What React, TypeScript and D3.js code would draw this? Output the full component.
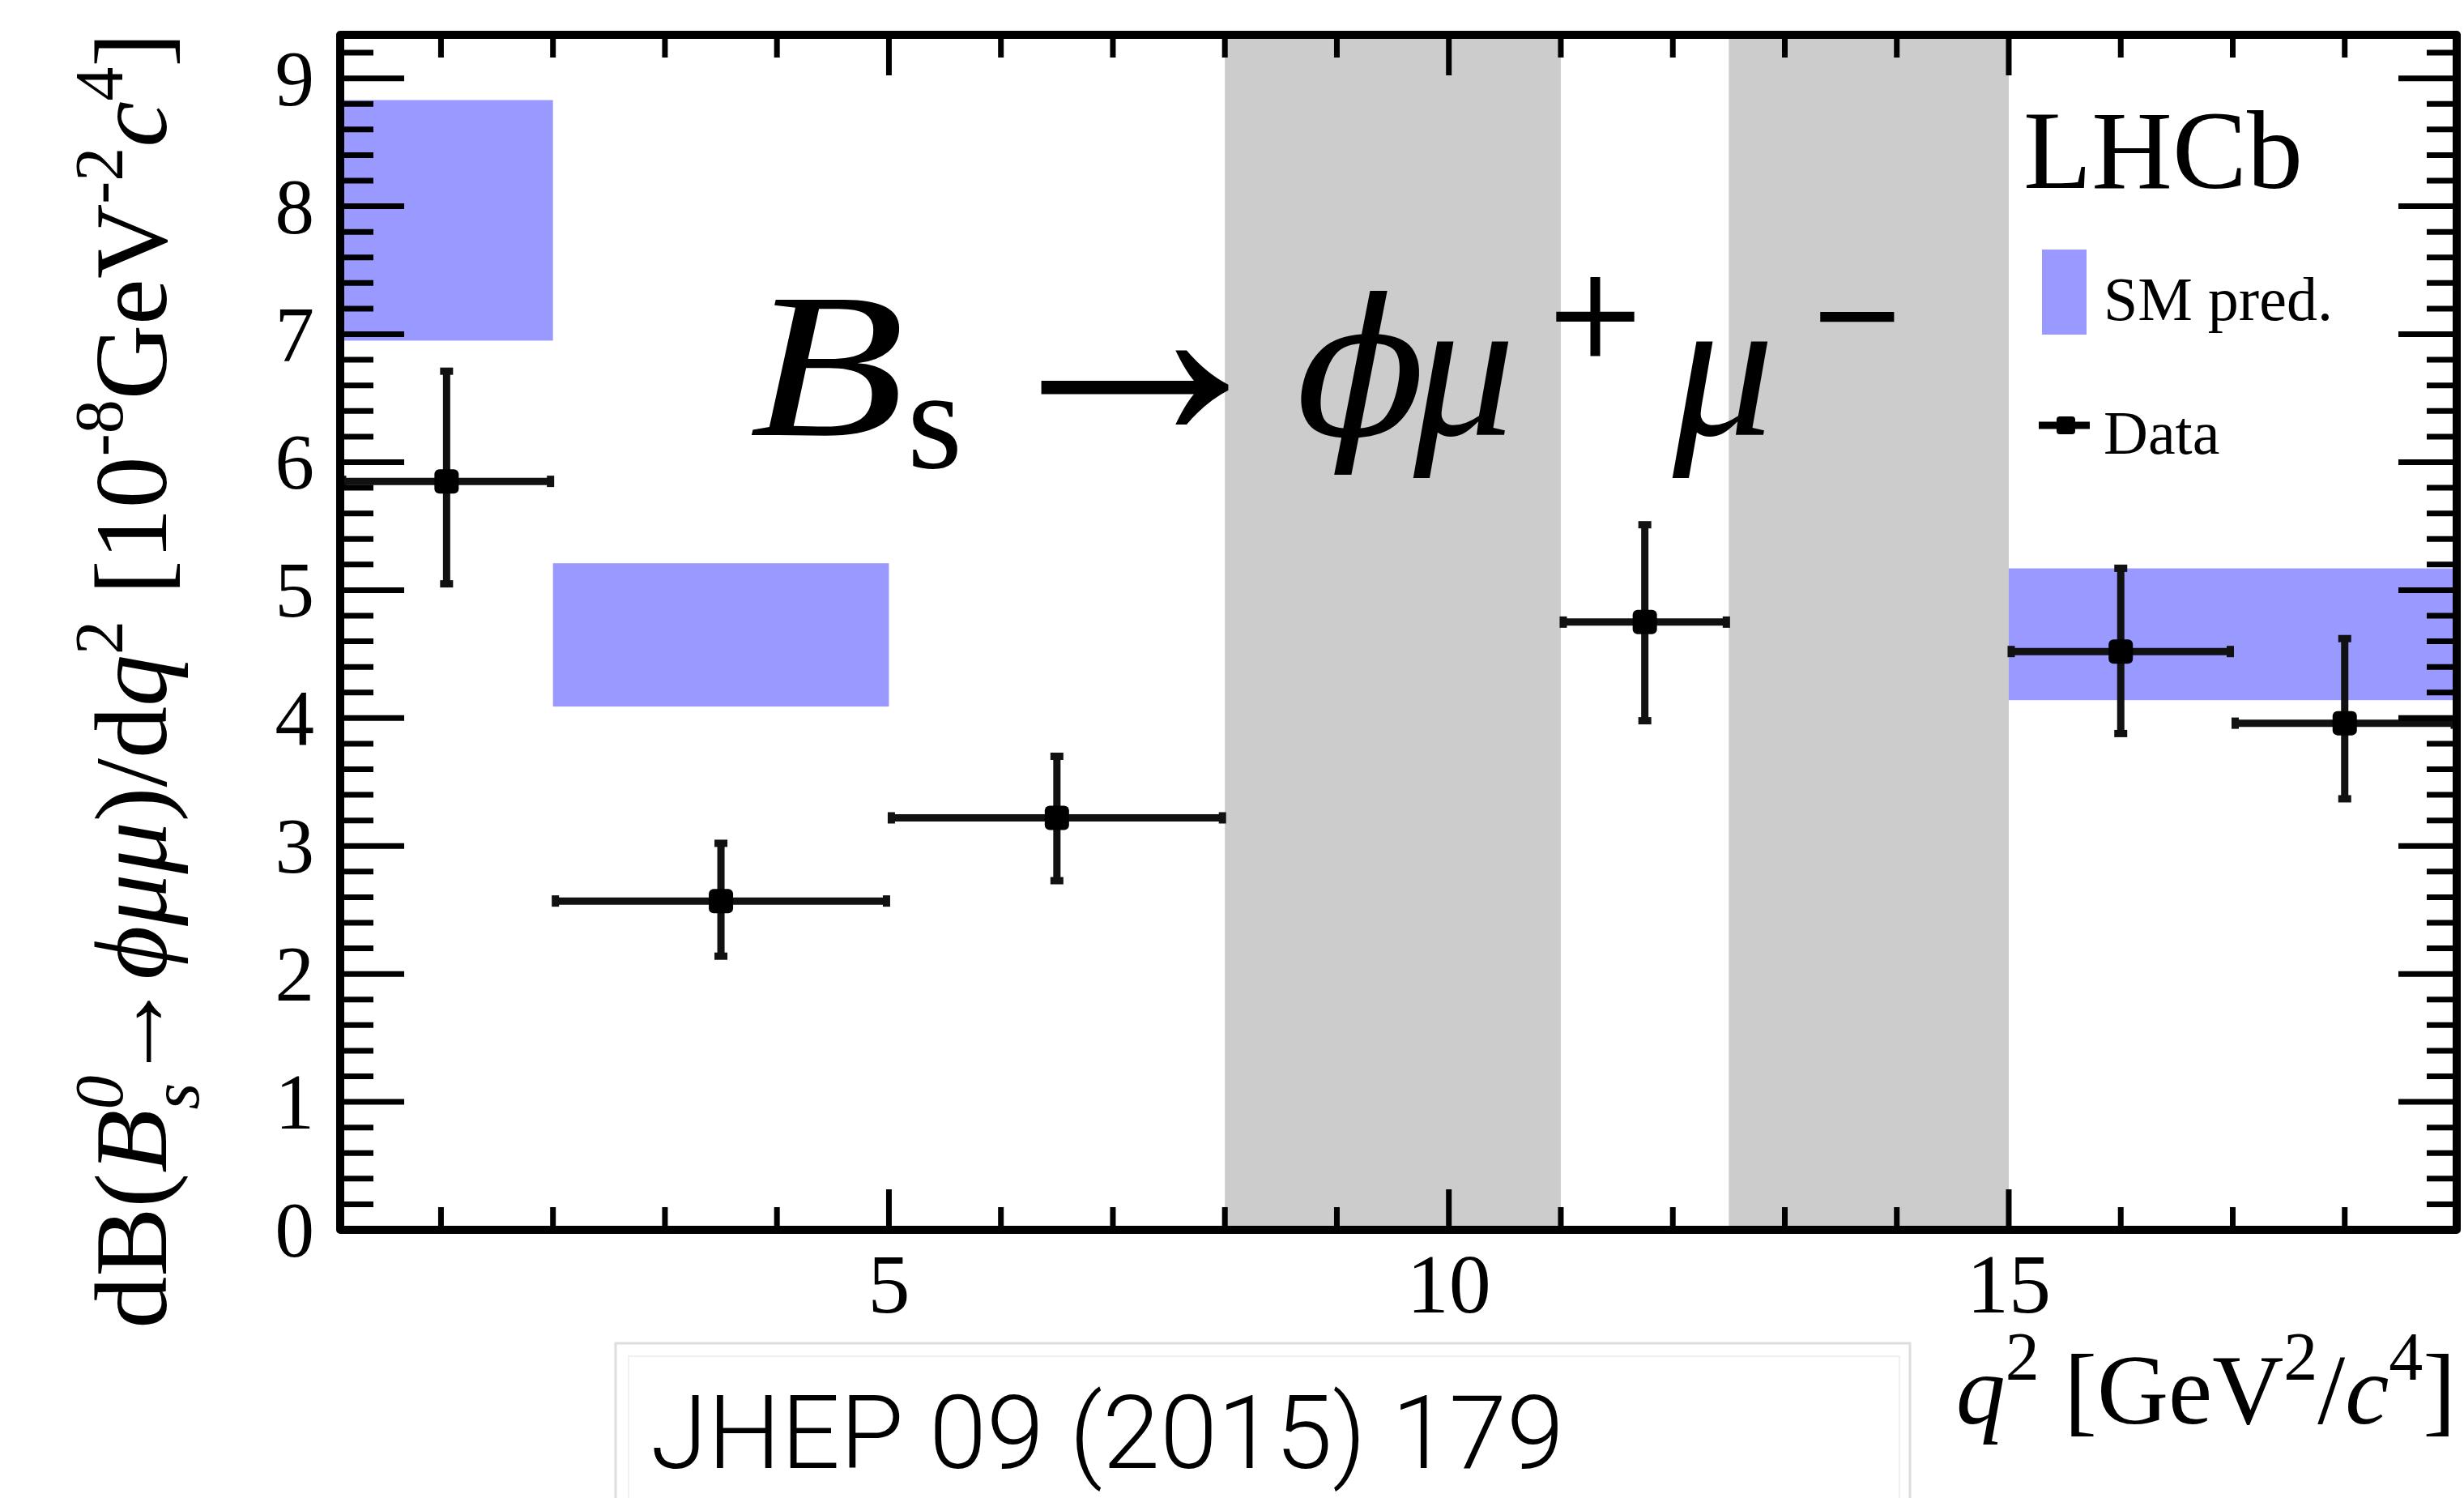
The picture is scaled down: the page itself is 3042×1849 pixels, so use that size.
import React from "react";
import * as d3 from "d3";

// ---- data ----
const binLo = [0.1, 2.0, 5.0, 11.0, 15.0, 17.0];
const binHi = [2.0, 5.0, 8.0, 12.5, 17.0, 19.0];
const binCenter = [1.05, 3.5, 6.5, 11.75, 16.0, 18.0];
const dataY = [5.85, 2.57, 3.22, 4.75, 4.52, 3.96];
const errUp = [0.88, 0.47, 0.5, 0.78, 0.67, 0.68];
const errDown = [0.82, 0.45, 0.51, 0.79, 0.66, 0.61];

const smLo = [0.1, 2.0, 15.0];
const smHi = [2.0, 5.0, 19.0];
const smMin = [6.95, 4.09, 4.14];
const smMax = [8.83, 5.21, 5.17];

const vetoLo = [8.0, 12.5];
const vetoHi = [11.0, 15.0];

const xTickLabels = [5, 10, 15];
const yTickLabels = [0, 1, 2, 3, 4, 5, 6, 7, 8, 9];

const W = 3042;
const H = 1849;
const SERIF = "'Liberation Serif', 'Times New Roman', serif";

export default function App() {
  const x = d3.scaleLinear().domain([0.1, 19]).range([420, 3033]);
  const y = d3.scaleLinear().domain([0, 9.34]).range([1518, 43]);
  const [x0, x1] = x.range();
  const [y0, y1] = y.range();

  const yMinor = d3.range(0, 9.3, 0.2).map((v) => +v.toFixed(1)).filter((v) => Math.abs(v - Math.round(v)) > 0.01);
  const xMinor = d3.range(1, 19, 1).filter((v) => !xTickLabels.includes(v));

  const tick = { stroke: "#000", strokeWidth: 7 };
  const bar = { stroke: "#111", strokeWidth: 9 };

  return (
    <svg width={W} height={H} style={{ position: "absolute", left: 0, top: 0, background: "#fff" }}>
      <rect x={0} y={0} width={W} height={H} fill="#fff" />
      {/* vetoed regions */}
      {vetoLo.map((lo, i) => (
        <rect key={"v" + i} x={x(lo)} y={y1} width={x(vetoHi[i]) - x(lo)} height={y0 - y1} fill="#cccccc" />
      ))}
      {/* SM prediction */}
      {smLo.map((lo, i) => (
        <rect key={"s" + i} x={x(lo)} y={y(smMax[i])} width={x(smHi[i]) - x(lo)} height={y(smMin[i]) - y(smMax[i])} fill="#9999ff" />
      ))}
      {/* data */}
      {binCenter.map((c, i) => {
        const cx = x(c);
        const cy = y(dataY[i]);
        const yt = y(dataY[i] + errUp[i]);
        const yb = y(dataY[i] - errDown[i]);
        const xl = x(binLo[i]);
        const xr = x(binHi[i]);
        return (
          <g key={"d" + i}>
            <line x1={xl} x2={xr} y1={cy} y2={cy} {...bar} />
            <line x1={cx} x2={cx} y1={yt} y2={yb} {...bar} />
            <line x1={cx - 8} x2={cx + 8} y1={yt + 3} y2={yt + 3} {...bar} />
            <line x1={cx - 8} x2={cx + 8} y1={yb - 3} y2={yb - 3} {...bar} />
            <line x1={xl + 3} x2={xl + 3} y1={cy - 7} y2={cy + 7} {...bar} />
            <line x1={xr - 3} x2={xr - 3} y1={cy - 7} y2={cy + 7} {...bar} />
            <rect x={cx - 15} y={cy - 15} width={30} height={30} rx={6} fill="#000" />
          </g>
        );
      })}

      {/* title */}
      <g fill="#000">
        <text x={925} y={537} fontFamily={SERIF} fontStyle="italic" fontSize={255} textLength={192} lengthAdjust="spacingAndGlyphs">B</text>
        <text x={1120} y={577} fontFamily={SERIF} fontSize={175}>s</text>
        <text x={1206} y={543} fontFamily={SERIF} fontSize={390}>→</text>
        <text x={1600} y={537} fontFamily="'DejaVu Serif', serif" fontStyle="italic" fontSize={235}>ϕ</text>
        <text x={1745} y={537} fontFamily={SERIF} fontStyle="italic" fontSize={250}>μ</text>
        <text x={1905} y={440} fontFamily="'DejaVu Serif', serif" fontSize={155} textLength={129} lengthAdjust="spacingAndGlyphs">+</text>
        <text x={2065} y={537} fontFamily={SERIF} fontStyle="italic" fontSize={250}>μ</text>
        <text x={2232} y={440} fontFamily="'DejaVu Serif', serif" fontSize={155} textLength={122} lengthAdjust="spacingAndGlyphs">−</text>
      </g>

      {/* ticks */}
      {yTickLabels.map((v) => (
        <g key={"yt" + v}>
          <line x1={x0} x2={x0 + 79} y1={y(v)} y2={y(v)} {...tick} />
          <line x1={x1} x2={x1 - 72} y1={y(v)} y2={y(v)} {...tick} />
        </g>
      ))}
      {yMinor.map((v) => (
        <g key={"ym" + v}>
          <line x1={x0} x2={x0 + 41} y1={y(v)} y2={y(v)} {...tick} />
          <line x1={x1} x2={x1 - 37} y1={y(v)} y2={y(v)} {...tick} />
        </g>
      ))}
      {xTickLabels.map((v) => (
        <g key={"xt" + v}>
          <line x1={x(v)} x2={x(v)} y1={y0} y2={y0 - 50} {...tick} />
          <line x1={x(v)} x2={x(v)} y1={y1} y2={y1 + 50} {...tick} />
        </g>
      ))}
      {xMinor.map((v) => (
        <g key={"xm" + v}>
          <line x1={x(v)} x2={x(v)} y1={y0} y2={y0 - 28} {...tick} />
          <line x1={x(v)} x2={x(v)} y1={y1} y2={y1 + 28} {...tick} />
        </g>
      ))}
      {/* frame */}
      <rect x={x0} y={y1} width={x1 - x0} height={y0 - y1} fill="none" stroke="#000" strokeWidth={10} strokeLinejoin="round" />

      {/* tick labels */}
      {yTickLabels.map((v) => (
        <text key={"yl" + v} x={388} y={y(v) + 33} textAnchor="end" fontFamily={SERIF} fontSize={97}>{v}</text>
      ))}
      {xTickLabels.map((v) => (
        <text key={"xl" + v} x={x(v)} y={1620} textAnchor="middle" fontFamily={SERIF} fontSize={104}>{v}</text>
      ))}

      {/* axis titles */}
      <text x={3032} y={1757} textAnchor="end" fontFamily={SERIF} fontSize={122}>
        <tspan fontStyle="italic">q</tspan>
        <tspan fontSize={84} dy={-54}>2</tspan>
        <tspan dy={54}>{"\u00A0[GeV"}</tspan>
        <tspan fontSize={84} dy={-54}>2</tspan>
        <tspan dy={54}>/</tspan>
        <tspan fontStyle="italic">c</tspan>
        <tspan fontSize={84} dy={-54}>4</tspan>
        <tspan dy={54}>]</tspan>
      </text>
      <text transform="translate(205, 840) rotate(-90)" textAnchor="middle" fontFamily={SERIF} fontSize={128}>
        <tspan>dB(</tspan>
        <tspan fontStyle="italic">B</tspan>
        <tspan fontStyle="italic" fontSize={84} dy={-54}>0</tspan>
        <tspan fontStyle="italic" fontSize={84} dx={-42} dy={94}>s</tspan>
        <tspan dy={-40}>→</tspan>
        <tspan fontStyle="italic">ϕμμ</tspan>
        <tspan>)/d</tspan>
        <tspan fontStyle="italic">q</tspan>
        <tspan fontSize={84} dy={-54}>2</tspan>
        <tspan dy={54}>{"\u00A0[10"}</tspan>
        <tspan fontSize={84} dy={-54}>-8</tspan>
        <tspan dy={54}>GeV</tspan>
        <tspan fontSize={84} dy={-54}>-2</tspan>
        <tspan fontStyle="italic" dy={54}>c</tspan>
        <tspan fontSize={84} dy={-54}>4</tspan>
        <tspan dy={54}>]</tspan>
      </text>

      {/* LHCb label and legend */}
      <text x={2498} y={232} fontFamily={SERIF} fontSize={138}>LHCb</text>
      <rect x={2521} y={308} width={55} height={105} fill="#9999ff" />
      <text x={2597} y={395} fontFamily={SERIF} fontSize={76}>SM pred.</text>
      <line x1={2517} x2={2580} y1={525} y2={525} stroke="#000" strokeWidth={9} />
      <rect x={2539} y={514} width={23} height={22} rx={4} fill="#000" />
      <text x={2597} y={560} fontFamily={SERIF} fontSize={76}>Data</text>

      {/* citation box */}
      <rect x={760} y={1658} width={1598} height={260} fill="#fff" stroke="#dddddd" strokeWidth={3} />
      <rect x={776} y={1674} width={1569} height={240} fill="none" stroke="#f0f0f0" strokeWidth={2} />
      <text x={803} y={1812} fontFamily="Roboto, 'Liberation Sans', sans-serif" fontWeight={300} fontSize={126} textLength={1128} lengthAdjust="spacingAndGlyphs">JHEP 09 (2015) 179</text>
    </svg>
  );
}
